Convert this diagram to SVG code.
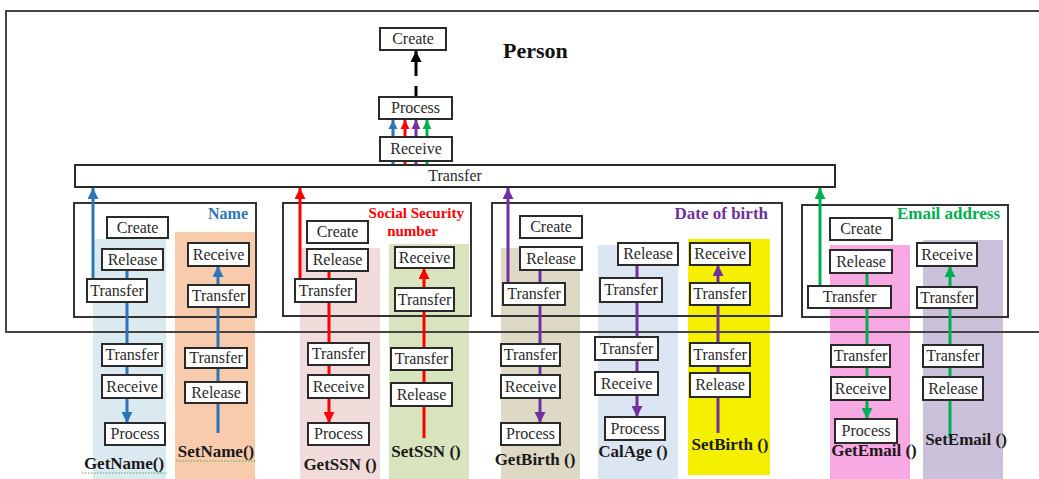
<svg xmlns="http://www.w3.org/2000/svg" width="1039" height="479" viewBox="0 0 1039 479">
<style>
.nd rect{fill:#fff;stroke:#2a2a2a;stroke-width:2}
.nd text,.bar text{font-family:"Liberation Serif","Times New Roman",serif;font-size:16px;fill:#2a2a2a;text-anchor:middle}
.frame{fill:none;stroke:#333;stroke-width:2}
.ttl{font-family:"Liberation Serif","Times New Roman",serif;font-weight:bold;text-anchor:end}
.m{font-family:"Liberation Serif","Times New Roman",serif;font-weight:bold;font-size:17px;fill:#1a1a1a;text-anchor:middle}
.cb{stroke:#2e75b6;stroke-width:3;fill:none}
.cr{stroke:#ff0000;stroke-width:3;fill:none}
.cp{stroke:#7030a0;stroke-width:3;fill:none}
.cg{stroke:#00b050;stroke-width:3;fill:none}
.ck{stroke:#000;stroke-width:3;fill:none}
.sq{stroke:#4caf50;stroke-width:1.2;stroke-dasharray:1.5 1.5;fill:none}
</style>
<defs>
<marker id="ab" viewBox="0 0 10 10" refX="10" refY="5" markerWidth="11" markerHeight="11" markerUnits="userSpaceOnUse" orient="auto"><path d="M0,0L10,5L0,10z" fill="#2e75b6"/></marker>
<marker id="ar" viewBox="0 0 10 10" refX="10" refY="5" markerWidth="11" markerHeight="11" markerUnits="userSpaceOnUse" orient="auto"><path d="M0,0L10,5L0,10z" fill="#ff0000"/></marker>
<marker id="ap" viewBox="0 0 10 10" refX="10" refY="5" markerWidth="11" markerHeight="11" markerUnits="userSpaceOnUse" orient="auto"><path d="M0,0L10,5L0,10z" fill="#7030a0"/></marker>
<marker id="ag" viewBox="0 0 10 10" refX="10" refY="5" markerWidth="11" markerHeight="11" markerUnits="userSpaceOnUse" orient="auto"><path d="M0,0L10,5L0,10z" fill="#00b050"/></marker>
<marker id="ak" viewBox="0 0 10 10" refX="10" refY="5" markerWidth="11" markerHeight="11" markerUnits="userSpaceOnUse" orient="auto"><path d="M0,0L10,5L0,10z" fill="#000"/></marker>
<marker id="sb" viewBox="0 0 10 10" refX="10" refY="5" markerWidth="9" markerHeight="10" markerUnits="userSpaceOnUse" orient="auto"><path d="M0,0L10,5L0,10z" fill="#2e75b6"/></marker>
<marker id="sr" viewBox="0 0 10 10" refX="10" refY="5" markerWidth="9" markerHeight="10" markerUnits="userSpaceOnUse" orient="auto"><path d="M0,0L10,5L0,10z" fill="#ff0000"/></marker>
<marker id="sp" viewBox="0 0 10 10" refX="10" refY="5" markerWidth="9" markerHeight="10" markerUnits="userSpaceOnUse" orient="auto"><path d="M0,0L10,5L0,10z" fill="#7030a0"/></marker>
<marker id="sg" viewBox="0 0 10 10" refX="10" refY="5" markerWidth="9" markerHeight="10" markerUnits="userSpaceOnUse" orient="auto"><path d="M0,0L10,5L0,10z" fill="#00b050"/></marker>
</defs>
<rect width="1039" height="479" fill="#fff"/>

<g id="bands">
<rect x="93" y="239" width="73" height="240" fill="#dbeaf0"/>
<rect x="175" y="232" width="80" height="247" fill="#f8cbad"/>
<rect x="300" y="248" width="80" height="231" fill="#f2dcdb"/>
<rect x="389" y="244" width="80" height="235" fill="#d7e4bd"/>
<rect x="501" y="248" width="79" height="231" fill="#ddd9c4"/>
<rect x="598" y="245" width="80" height="234" fill="#dce6f2"/>
<rect x="688" y="239" width="82" height="236" fill="#f5f000"/>
<rect x="830" y="245" width="80" height="234" fill="#f8a8e2"/>
<rect x="923" y="240" width="80" height="239" fill="#ccc1da"/>
</g>

<g id="person">
<rect x="6" y="11" width="1045" height="321" fill="none" stroke="#444" stroke-width="2"/>
<text x="503" y="58" font-family="Liberation Serif, Times New Roman, serif" font-weight="bold" font-size="22" fill="#111">Person</text>
</g>

<g id="group-name">
<rect class="frame" x="74" y="203" width="182" height="114"/>
<text class="ttl" x="248" y="219" font-size="16" fill="#2e75b6">Name</text>
</g>
<g id="group-ssn">
<rect class="frame" x="283" y="203" width="188" height="113"/>
<text class="ttl" x="464" y="218" font-size="15" fill="#ff0000">Social Security</text>
<text class="ttl" x="438" y="236" font-size="15" fill="#ff0000">number</text>
</g>
<g id="group-dob">
<rect class="frame" x="492" y="203" width="290" height="113"/>
<text class="ttl" x="768" y="219" font-size="17" fill="#7030a0">Date of birth</text>
</g>
<g id="group-email">
<rect class="frame" x="802" y="205" width="206" height="112"/>
<text class="ttl" x="1000" y="219" font-size="17" fill="#00b050">Email address</text>
</g>

<g id="connectors">
<line class="ck" x1="416" y1="97" x2="416" y2="86"/>
<line class="ck" x1="416" y1="76" x2="416" y2="51" marker-end="url(#ak)"/>
<line class="cb" x1="393" y1="165" x2="393" y2="120" marker-end="url(#sb)" stroke-width="2.5"/>
<line class="cr" x1="405" y1="165" x2="405" y2="120" marker-end="url(#sr)" stroke-width="2.5"/>
<line class="cp" x1="416" y1="165" x2="416" y2="120" marker-end="url(#sp)" stroke-width="2.5"/>
<line class="cg" x1="427" y1="165" x2="427" y2="120" marker-end="url(#sg)" stroke-width="2.5"/>

<line class="cb" x1="93" y1="280" x2="93" y2="188" marker-end="url(#ab)"/>
<line class="cb" x1="127" y1="270" x2="127" y2="423" marker-end="url(#ab)"/>
<line class="cb" x1="218" y1="433" x2="218" y2="266" marker-end="url(#ab)"/>

<line class="cr" x1="300" y1="280" x2="300" y2="188" marker-end="url(#ar)"/>
<line class="cr" x1="329" y1="271" x2="329" y2="423" marker-end="url(#ar)"/>
<line class="cr" x1="424" y1="438" x2="424" y2="268" marker-end="url(#ar)"/>

<line class="cp" x1="508" y1="284" x2="508" y2="188" marker-end="url(#ap)"/>
<line class="cp" x1="540" y1="270" x2="540" y2="423" marker-end="url(#ap)"/>
<line class="cp" x1="637" y1="265" x2="637" y2="417" marker-end="url(#ap)"/>
<line class="cp" x1="718" y1="433" x2="718" y2="265" marker-end="url(#ap)"/>

<line class="cg" x1="820" y1="287" x2="820" y2="188" marker-end="url(#ag)"/>
<line class="cg" x1="867" y1="273" x2="867" y2="419" marker-end="url(#ag)"/>
<line class="cg" x1="950" y1="437" x2="950" y2="266" marker-end="url(#ag)"/>
</g>

<g id="top-create" class="nd"><rect x="380" y="28" width="66" height="22"/><text x="413" y="44">Create</text></g>
<g id="top-process" class="nd"><rect x="379" y="97" width="73" height="22"/><text x="415.5" y="113">Process</text></g>
<g id="top-receive" class="nd"><rect x="380" y="137" width="72" height="24"/><text x="416" y="154">Receive</text></g>
<g id="top-transfer" class="nd bar"><rect x="75" y="165" width="760" height="22"/><text x="455" y="181" font-size="15">Transfer</text></g>

<g id="name-create" class="nd"><rect x="107" y="217" width="61" height="21"/><text x="137.5" y="232.5">Create</text></g>
<g id="name-release" class="nd"><rect x="102" y="249" width="61" height="21"/><text x="132.5" y="264.5">Release</text></g>
<g id="name-transfer" class="nd"><rect x="87" y="279" width="60" height="23"/><text x="117" y="295.5">Transfer</text></g>
<g id="name-set-receive" class="nd"><rect x="188" y="243" width="61" height="23"/><text x="218.5" y="259.5">Receive</text></g>
<g id="name-set-transfer" class="nd"><rect x="188" y="285" width="61" height="22"/><text x="218.5" y="301">Transfer</text></g>
<g id="getname-transfer" class="nd"><rect x="102" y="344" width="60" height="22"/><text x="132" y="360">Transfer</text></g>
<g id="getname-receive" class="nd"><rect x="102" y="375" width="60" height="23"/><text x="132" y="391.5">Receive</text></g>
<g id="getname-process" class="nd"><rect x="105" y="423" width="60" height="22"/><text x="135" y="439">Process</text></g>
<g id="setname-transfer" class="nd"><rect x="185" y="348" width="62" height="20"/><text x="216" y="363">Transfer</text></g>
<g id="setname-release" class="nd"><rect x="185" y="382" width="62" height="21"/><text x="216" y="397.5">Release</text></g>
<g id="getname-label"><text class="m" x="124" y="469">GetName()</text><path class="sq" d="M82,473H167"/></g>
<g id="setname-label"><text class="m" x="216" y="457">SetName()</text><path class="sq" d="M176,461H256"/></g>

<g id="ssn-create" class="nd"><rect x="307" y="221" width="61" height="22"/><text x="337.5" y="237">Create</text></g>
<g id="ssn-release" class="nd"><rect x="307" y="249" width="61" height="22"/><text x="337.5" y="265">Release</text></g>
<g id="ssn-transfer" class="nd"><rect x="295" y="279" width="61" height="23"/><text x="325.5" y="295.5">Transfer</text></g>
<g id="ssn-set-receive" class="nd"><rect x="395" y="247" width="59" height="21"/><text x="424.5" y="262.5">Receive</text></g>
<g id="ssn-set-transfer" class="nd"><rect x="395" y="288" width="59" height="23"/><text x="424.5" y="304.5">Transfer</text></g>
<g id="getssn-transfer" class="nd"><rect x="308" y="343" width="61" height="22"/><text x="338.5" y="359">Transfer</text></g>
<g id="getssn-receive" class="nd"><rect x="308" y="375" width="61" height="23"/><text x="338.5" y="391.5">Receive</text></g>
<g id="getssn-process" class="nd"><rect x="308" y="423" width="61" height="22"/><text x="338.5" y="439">Process</text></g>
<g id="setssn-transfer" class="nd"><rect x="391" y="348" width="61" height="22"/><text x="421.5" y="364">Transfer</text></g>
<g id="setssn-release" class="nd"><rect x="391" y="383" width="61" height="23"/><text x="421.5" y="399.5">Release</text></g>
<g id="getssn-label"><text class="m" x="340" y="470">GetSSN ()</text></g>
<g id="setssn-label"><text class="m" x="426" y="457">SetSSN ()</text></g>

<g id="dob-create" class="nd"><rect x="520" y="216" width="62" height="22"/><text x="551" y="232">Create</text></g>
<g id="dob-release" class="nd"><rect x="520" y="247" width="62" height="23"/><text x="551" y="263.5">Release</text></g>
<g id="dob-transfer" class="nd"><rect x="503" y="283" width="62" height="22"/><text x="534" y="299">Transfer</text></g>
<g id="calage-release" class="nd"><rect x="618" y="243" width="60" height="22"/><text x="648" y="259">Release</text></g>
<g id="calage-transfer" class="nd"><rect x="600" y="278" width="62" height="24"/><text x="631" y="295">Transfer</text></g>
<g id="setbirth-receive" class="nd"><rect x="690" y="243" width="60" height="22"/><text x="720" y="259">Receive</text></g>
<g id="setbirth-transfer" class="nd"><rect x="690" y="283" width="60" height="22"/><text x="720" y="299">Transfer</text></g>
<g id="getbirth-transfer2" class="nd"><rect x="501" y="344" width="59" height="22"/><text x="530.5" y="360">Transfer</text></g>
<g id="getbirth-receive" class="nd"><rect x="501" y="375" width="59" height="23"/><text x="530.5" y="391.5">Receive</text></g>
<g id="getbirth-process" class="nd"><rect x="501" y="423" width="59" height="22"/><text x="530.5" y="439">Process</text></g>
<g id="calage-transfer2" class="nd"><rect x="595" y="337" width="63" height="23"/><text x="626.5" y="353.5">Transfer</text></g>
<g id="calage-receive" class="nd"><rect x="595" y="372" width="63" height="23"/><text x="626.5" y="388.5">Receive</text></g>
<g id="calage-process" class="nd"><rect x="605" y="417" width="60" height="23"/><text x="635" y="433.5">Process</text></g>
<g id="setbirth-transfer2" class="nd"><rect x="690" y="343" width="60" height="23"/><text x="720" y="359.5">Transfer</text></g>
<g id="setbirth-release" class="nd"><rect x="690" y="373" width="60" height="24"/><text x="720" y="390">Release</text></g>
<g id="getbirth-label"><text class="m" x="535" y="465">GetBirth ()</text></g>
<g id="calage-label"><text class="m" x="633" y="457">CalAge ()</text></g>
<g id="setbirth-label"><text class="m" x="730" y="450">SetBirth ()</text></g>

<g id="email-create" class="nd"><rect x="830" y="218" width="62" height="22"/><text x="861" y="234">Create</text></g>
<g id="email-release" class="nd"><rect x="830" y="250" width="62" height="23"/><text x="861" y="266.5">Release</text></g>
<g id="email-transfer" class="nd"><rect x="808" y="286" width="83" height="22"/><text x="849.5" y="302">Transfer</text></g>
<g id="setemail-receive" class="nd"><rect x="917" y="243" width="60" height="23"/><text x="947" y="259.5">Receive</text></g>
<g id="setemail-transfer" class="nd"><rect x="917" y="287" width="60" height="21"/><text x="947" y="302.5">Transfer</text></g>
<g id="getemail-transfer2" class="nd"><rect x="831" y="345" width="59" height="22"/><text x="860.5" y="361">Transfer</text></g>
<g id="getemail-receive" class="nd"><rect x="831" y="377" width="59" height="23"/><text x="860.5" y="393.5">Receive</text></g>
<g id="getemail-process" class="nd"><rect x="835" y="419" width="62" height="24"/><text x="866" y="436">Process</text></g>
<g id="setemail-transfer2" class="nd"><rect x="923" y="345" width="60" height="22"/><text x="953" y="361">Transfer</text></g>
<g id="setemail-release" class="nd"><rect x="923" y="377" width="60" height="23"/><text x="953" y="393.5">Release</text></g>
<g id="getemail-label"><text class="m" x="874" y="456">GetEmail ()</text></g>
<g id="setemail-label"><text class="m" x="966" y="445">SetEmail ()</text></g>
</svg>
